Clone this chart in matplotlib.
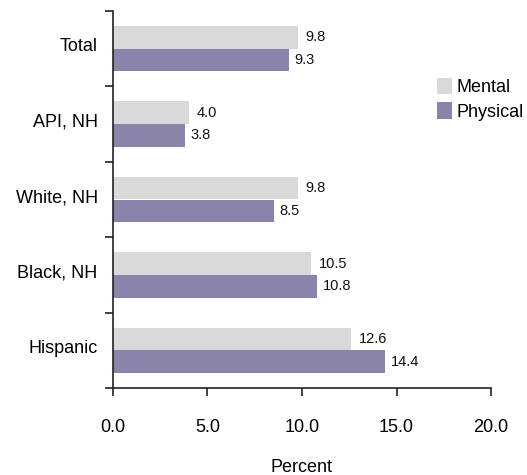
import matplotlib
matplotlib.use("Agg")
import matplotlib.pyplot as plt
import numpy as np

plt.rcParams['font.family'] = ['Liberation Sans', 'DejaVu Sans']

categories = ["Total", "API, NH", "White, NH", "Black, NH", "Hispanic"]
mental = [9.8, 4.0, 9.8, 10.5, 12.6]
physical = [9.3, 3.8, 8.5, 10.8, 14.4]
xticks = [0.0, 5.0, 10.0, 15.0, 20.0]

mental_color = "#D9D9D9"
physical_color = "#8A84AA"

fig = plt.figure(figsize=(5.27, 4.75), dpi=100)
ax = fig.add_axes([0.2144, 0.1832, 0.7173, 0.7936])

pos = np.arange(len(categories))
h = 0.3
ax.barh(pos - h / 2, mental, height=h, color=mental_color, label="Mental")
ax.barh(pos + h / 2, physical, height=h, color=physical_color, label="Physical")

for y, v in zip(pos - h / 2, mental):
    ax.text(v + 0.4, y, f"{v:.1f}", va="center", ha="left", fontsize=10.5, color="#111111")
for y, v in zip(pos + h / 2, physical):
    ax.text(v + 0.3, y, f"{v:.1f}", va="center", ha="left", fontsize=10.5, color="#111111")

ax.set_xlim(0, 20)
ax.set_ylim(len(categories) - 0.5, -0.5)
ax.set_xticks(xticks)
ax.set_xticklabels([f"{t:.1f}" for t in xticks], fontsize=13)
ax.set_yticks(np.arange(-0.5, len(categories)), minor=False)
ax.set_yticklabels([])
ax.set_yticks(pos - 0.05, minor=True)
ax.set_yticklabels(categories, minor=True, fontsize=13)
ax.tick_params(axis="y", which="minor", length=0, pad=11)
ax.tick_params(axis="y", which="major", length=6, width=1.2, color="#222222")
ax.tick_params(axis="x", length=6, width=1.2, color="#222222", pad=16)

for side in ("top", "right"):
    ax.spines[side].set_visible(False)
for side in ("left", "bottom"):
    ax.spines[side].set_linewidth(1.2)
    ax.spines[side].set_color("#222222")

ax.set_xlabel("Percent", fontsize=13, labelpad=17)

ax.legend(loc="upper left", bbox_to_anchor=(0.838, 0.842), frameon=False,
          fontsize=13, handlelength=0.85, handleheight=1.0, handletextpad=0.25,
          labelspacing=0.35, borderaxespad=0)

fig.savefig("out.png", dpi=100)
